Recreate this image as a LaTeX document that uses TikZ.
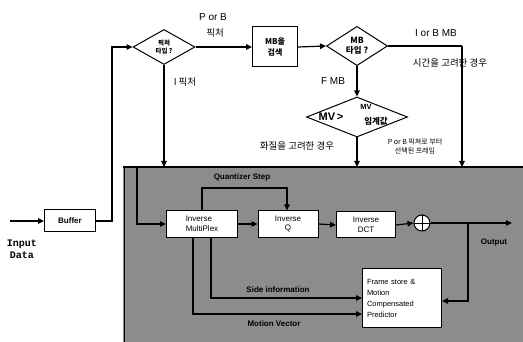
\documentclass[tikz,border=0pt]{standalone}
\usepackage{fontspec}
\setmainfont{Liberation Sans}
\newfontfamily\kr{Noto Sans CJK KR}
\newfontfamily\monof{Liberation Mono}
\usetikzlibrary{shapes.geometric,arrows.meta}
\begin{document}
\begin{tikzpicture}[x=1pt,y=-1pt,
  ln/.style={line width=1.2pt},
  ar/.style={line width=1.2pt,-{Triangle[length=6pt,width=5.5pt]}},
  boxn/.style={draw,line width=1pt,fill=white,inner sep=1.5pt,font=\fontsize{8}{9.5}\selectfont,align=left},
  dia/.style={draw,diamond,line width=1pt,fill=white,inner sep=0pt,align=center},
  lab/.style={inner sep=0pt,font=\fontsize{10}{11}\selectfont},
  klab/.style={inner sep=0pt,font=\kr\fontsize{9.5}{10}\selectfont},
  glab/.style={inner sep=0pt,font=\bfseries\fontsize{8}{9}\selectfont}]
\useasboundingbox (0,0) rectangle (523,342);
% gray region
\fill[black!45] (123,167) rectangle (523,342);
\draw[line width=0.7pt] (124,167) -- (124,342);
\draw[line width=1.8pt] (123,167) -- (523,167);
% nodes
\coordinate (inp) at (10,221);
\node[boxn,minimum width=51pt,minimum height=22pt,align=center] (buf) at (70,221) {\bfseries Buffer};
\node[inner sep=0pt,font=\monof\bfseries\fontsize{10}{12}\selectfont,align=center] (inlab) at (22,249) {Input\\Data};
\node[dia,minimum width=62pt,minimum height=35pt,font=\kr\bfseries\fontsize{6.5}{8}\selectfont] (d1) at (164,47) {픽쳐\\타입 ?};
\node[boxn,minimum width=45pt,minimum height=40pt,align=center,font=\kr\bfseries\fontsize{8}{11}\selectfont] (mb) at (275,47) {MB을\\검색};
\node[dia,minimum width=61pt,minimum height=39pt,font=\kr\bfseries\fontsize{8.5}{10}\selectfont] (d2) at (357,46) {MB\\타입 ?};
\node[dia,minimum width=101pt,minimum height=40pt] (d3) at (357,117) {};
\node[inner sep=0pt,font=\bfseries\fontsize{11}{11}\selectfont] (mv1) at (331,117) {MV\,>};
\node[inner sep=0pt,font=\bfseries\fontsize{7.5}{8}\selectfont] (mv2) at (366,107) {MV};
\node[inner sep=0pt,font=\kr\bfseries\fontsize{8.5}{9}\selectfont] (mv3) at (376,121) {임계값};
% bus landing points
\coordinate (t1) at (164,167);
\coordinate (t2) at (357,167);
\coordinate (t3) at (462,167);
\coordinate (r2) at (462,46);
% labels top
\node[lab] (l1) at (213,17) {P or B};
\node[klab] (l2) at (215,33) {픽처};
\node[klab] (l3) at (185,82) {I 픽처};
\node[lab] (l4) at (436,33) {I or B MB};
\node[klab] (l5) at (450,63) {시간을 고려한 경우};
\node[lab] (l6) at (333,81) {F MB};
\node[klab] (l7) at (297,146) {화질을 고려한 경우};
\node[inner sep=0pt,font=\kr\fontsize{7}{9}\selectfont,align=center] (l8) at (415,146) {P or B 픽쳐로 부터\\선택된 프레임};
% connectors top
\draw[ar] (inp) -- (buf.west);
\draw[ar] (buf.east) -- (112,221) -- (112,47) -- (d1.west);
\draw[ar] (d1.east) -- (mb.west);
\draw[ar] (mb.east) -- (d2.west);
\draw[ar] (d1.south) -- (t1);
\draw[ar] (d2.south) -- (d3.north);
\draw[ar] (d3.south) -- (t2);
\draw[ln] (d2.east) -- (r2);
\draw[ar] (r2) -- (t3);
% inside blocks
\node[boxn,minimum width=71pt,minimum height=27pt] (imux) at (202,224) {Inverse\\MultiPlex};
\node[boxn,minimum width=60pt,minimum height=27pt,align=center] (iq) at (288,224) {Inverse\\Q};
\node[boxn,minimum width=59pt,minimum height=26pt,align=center] (idct) at (366,225) {Inverse\\DCT};
\node[draw,circle,line width=1pt,fill=white,minimum size=16pt,inner sep=0pt] (sum) at (422,223) {};
\draw[line width=0.9pt] (sum.north) -- (sum.south) (sum.west) -- (sum.east);
\node[boxn,minimum width=79pt,minimum height=59pt,text width=70pt,font=\fontsize{7.5}{11}\selectfont] (fs) at (402,298) {Frame store \&\\Motion\\Compensated\\Predictor};
\coordinate (outp) at (512,223);
\coordinate (fb) at (468,223);
% inside connectors
\draw[ar] (137,167) -- (137,224) -- (imux.west);
\draw[ar] (imux.east) -- (iq.west);
\draw[ar] (iq.east) -- (idct.west);
\draw[ar] (idct.east) -- (sum.west);
\draw[ar] (sum.east) -- (outp);
\draw[ar] (fb) -- (468,301) -- (fs.east |- 0,301);
\draw[ar] (202,210.5) -- (202,188) -- (287,188) -- (287,210.5);
\draw[ar] (211,237.5) -- (211,298) -- (fs.west |- 0,298);
\draw[ar] (193,237.5) -- (193,314) -- (fs.west |- 0,314);
\node[glab] (qs) at (242,177) {Quantizer Step};
\node[glab] (si) at (278,290) {Side information};
\node[glab] (mvv) at (274,324) {Motion Vector};
\node[glab] (op) at (494,243) {Output};
\end{tikzpicture}
\end{document}
